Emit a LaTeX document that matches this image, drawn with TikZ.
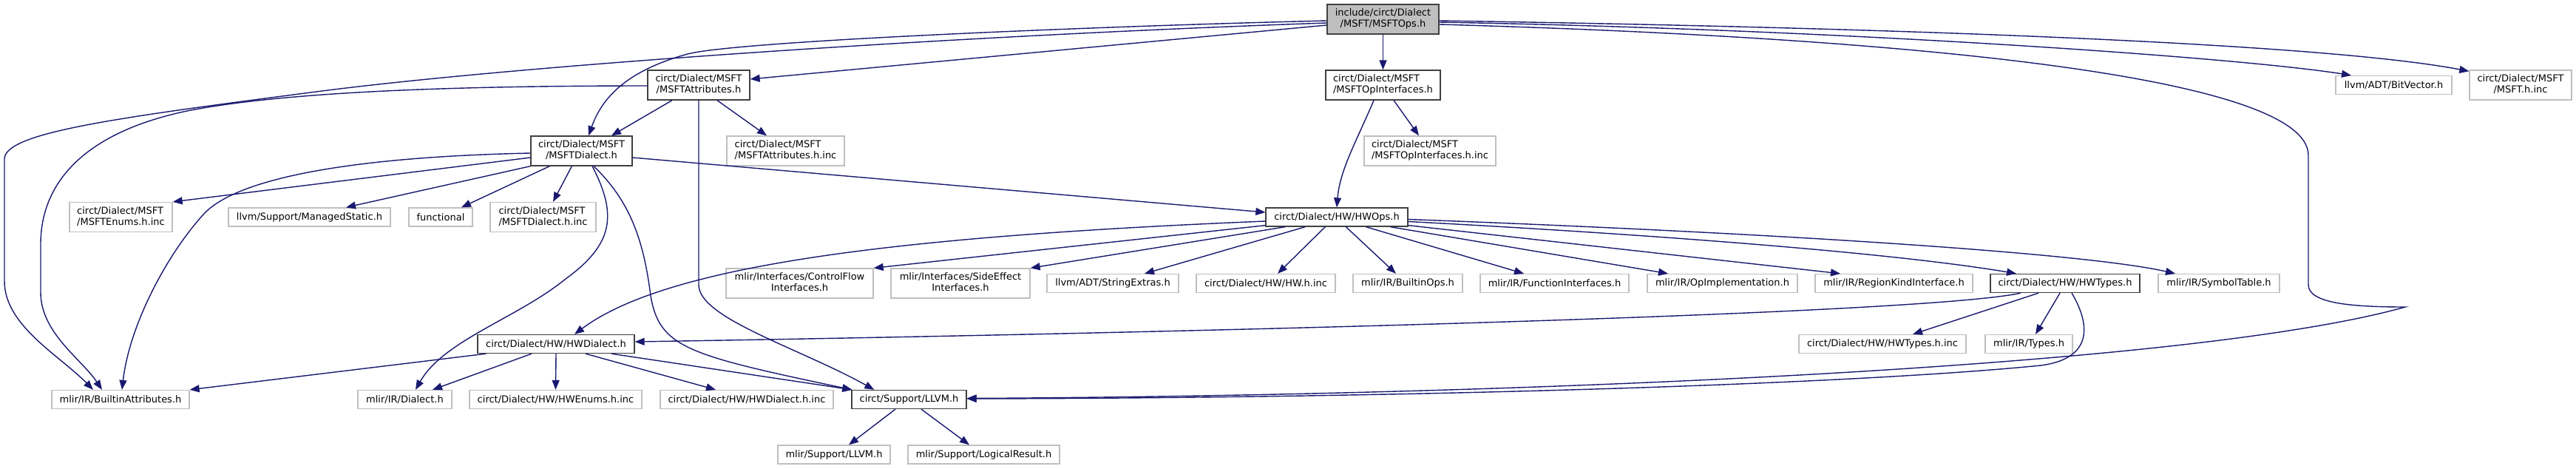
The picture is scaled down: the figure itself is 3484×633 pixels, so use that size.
\documentclass[tikz,border=0pt]{standalone}
\usepackage{fontspec}
\setmainfont{DejaVu Sans}
\usetikzlibrary{arrows.meta,calc}
\definecolor{edgecol}{HTML}{191970}
\definecolor{docborder}{HTML}{404040}
\definecolor{undocborder}{HTML}{BFBFBF}
\definecolor{rootfill}{HTML}{BFBFBF}
\newlength\tlA
\newlength\tlB
\newcommand\twolines[2]{\settowidth\tlA{#1}\settowidth\tlB{#2}\ifdim\tlB>\tlA\tlA=\tlB\fi\begin{tabular}{@{}c@{}}\makebox[\tlA][l]{#1}\\#2\end{tabular}}
\tikzset{
  nd/.style={draw, line width=1.3pt, inner sep=0pt, font=\fontsize{13}{15}\selectfont, text=black},
  doc/.style={nd, draw=docborder, fill=white},
  undoc/.style={nd, draw=undocborder, fill=white},
  root/.style={nd, draw=docborder, fill=rootfill},
  hone/.style={minimum height=25pt},
  htwo/.style={minimum height=40pt},
  wd/.style={minimum width=#1pt},
  edge/.style={draw=edgecol, line width=1.4pt, -{Triangle[length=13pt,width=10pt]}}
}
\begin{document}
\begin{tikzpicture}[x=1pt,y=-1pt]
\useasboundingbox[fill=white] (0,0) rectangle (3484,633);
% rank 0
\node[root,htwo,wd=151] (main) at (1870.5,26) {\twolines{include/circt/Dialect}{/MSFT/MSFTOps.h}};
% rank 1
\node[doc,htwo,wd=138] (attr) at (945,115) {\twolines{circt/Dialect/MSFT}{/MSFTAttributes.h}};
\node[doc,htwo,wd=155] (opif) at (1870.5,115) {\twolines{circt/Dialect/MSFT}{/MSFTOpInterfaces.h}};
\node[undoc,hone,wd=157] (bitvec) at (3237.5,115) {llvm/ADT/BitVector.h};
\node[undoc,htwo,wd=138] (msftinc) at (3409,115) {\twolines{circt/Dialect/MSFT}{/MSFT.h.inc}};
% rank 2
\node[doc,htwo,wd=137] (dial) at (786.5,204) {\twolines{circt/Dialect/MSFT}{/MSFTDialect.h}};
\node[undoc,htwo,wd=159] (attrinc) at (1062.5,204) {\twolines{circt/Dialect/MSFT}{/MSFTAttributes.h.inc}};
\node[undoc,htwo,wd=178] (opifinc) at (1934,204) {\twolines{circt/Dialect/MSFT}{/MSFTOpInterfaces.h.inc}};
% rank 3
\node[undoc,htwo,wd=139] (enums) at (163.5,293.5) {\twolines{circt/Dialect/MSFT}{/MSFTEnums.h.inc}};
\node[undoc,hone,wd=219] (managed) at (418.5,293.5) {llvm/Support/ManagedStatic.h};
\node[undoc,hone,wd=86] (functional) at (596,293.5) {functional};
\node[undoc,htwo,wd=143] (dialinc) at (734.5,293.5) {\twolines{circt/Dialect/MSFT}{/MSFTDialect.h.inc}};
\node[doc,hone,wd=192] (hwops) at (1808,293.5) {circt/Dialect/HW/HWOps.h};
% rank 4
\node[undoc,htwo,wd=199] (cflow) at (1081.5,383) {\twolines{mlir/Interfaces/ControlFlow}{Interfaces.h}};
\node[undoc,htwo,wd=188] (sideeff) at (1299,383) {\twolines{mlir/Interfaces/SideEffect}{Interfaces.h}};
\node[undoc,hone,wd=178] (strext) at (1505,383) {llvm/ADT/StringExtras.h};
\node[undoc,hone,wd=188] (hwinc) at (1712,383) {circt/Dialect/HW/HW.h.inc};
\node[undoc,hone,wd=148] (builtinops) at (1904,383) {mlir/IR/BuiltinOps.h};
\node[undoc,hone,wd=201] (funcif) at (2102.5,383) {mlir/IR/FunctionInterfaces.h};
\node[undoc,hone,wd=203] (opimpl) at (2329.5,383) {mlir/IR/OpImplementation.h};
\node[undoc,hone,wd=213] (regkind) at (2561.5,383) {mlir/IR/RegionKindInterface.h};
\node[doc,hone,wd=202] (hwtypes) at (2793,383) {circt/Dialect/HW/HWTypes.h};
\node[undoc,hone,wd=164] (symtab) at (3001,383) {mlir/IR/SymbolTable.h};
% rank 5
\node[doc,hone,wd=212] (hwdial) at (752,465) {circt/Dialect/HW/HWDialect.h};
\node[undoc,hone,wd=226] (hwtypesinc) at (2546,465) {circt/Dialect/HW/HWTypes.h.inc};
\node[undoc,hone,wd=118] (types) at (2744,465) {mlir/IR/Types.h};
% rank 6
\node[undoc,hone,wd=186] (battr) at (163,540) {mlir/IR/BuiltinAttributes.h};
\node[undoc,hone,wd=127] (mdialect) at (547.5,540) {mlir/IR/Dialect.h};
\node[undoc,hone,wd=233] (hwenums) at (751.5,540) {circt/Dialect/HW/HWEnums.h.inc};
\node[undoc,hone,wd=234] (hwdialinc) at (1010,540) {circt/Dialect/HW/HWDialect.h.inc};
\node[doc,hone,wd=155] (llvm) at (1229.5,540) {circt/Support/LLVM.h};
% rank 7
\node[undoc,hone,wd=152] (mllvm) at (1128,614.5) {mlir/Support/LLVM.h};
\node[undoc,hone,wd=205] (logres) at (1330.5,614.5) {mlir/Support/LogicalResult.h};

% ---- edges from main
\draw[edge] ($(main.west)+(0,8)$) -- ($(attr.east)+(0,-8)$);
\draw[edge] ($(main.west)+(0,2)$) .. controls (1500,35) and (1000,55) .. (930,73) .. controls (850,95) and (815,130) .. ($(dial.north)+(9.5,0)$);
\draw[edge] ($(main.west)+(0,5)$) .. controls (1300,48) and (700,88) .. (420,125) .. controls (150,160) and (6,180) .. (6,215) -- (6,380) .. controls (6,440) and (80,480) .. ($(battr.north)+(-37,0)$);
\draw[edge] (main.south) -- (opif.north);
\draw[edge] ($(main.east)+(0,4)$) .. controls (2500,40) and (3030,78) .. ($(bitvec.north)+(-57.5,0)$);
\draw[edge] ($(main.east)+(0,2)$) .. controls (2600,38) and (3150,60) .. ($(msftinc.north west)+(0,2)$);
\draw[edge] ($(main.east)+(0,7)$) .. controls (2550,50) and (3122,100) .. (3122,210) -- (3122,385) .. controls (3122,410) and (3180,415) .. (3253,415) .. controls (2950,500) and (2000,535) .. ($(llvm.east)+(0,-1.5)$);
% ---- edges from MSFTAttributes
\draw[edge] ($(attr.south)+(-36,0)$) -- ($(dial.north)+(40.5,0)$);
\draw[edge] ($(attr.south)+(25,0)$) -- ($(attrinc.north)+(-25.5,0)$);
\draw[edge] ($(attr.west)+(0,1)$) .. controls (600,116) and (380,125) .. (253,150) .. controls (110,180) and (55,250) .. (55,330) -- (55,395) .. controls (55,450) and (110,485) .. ($(battr.north)+(-25,0)$);
\draw[edge] (attr.south) -- (945,385) .. controls (945,430) and (1080,470) .. ($(llvm.north west)+(31,0)$);
% ---- edges from MSFTOpInterfaces
\draw[edge] ($(opif.south)+(-12.5,0)$) .. controls (1835,190) and (1812,230) .. (hwops.north);
\draw[edge] ($(opif.south)+(14.5,0)$) -- ($(opifinc.north)+(-15,0)$);
% ---- edges from MSFTDialect
\draw[edge] ($(dial.west)+(0,9)$) -- (enums.north east);
\draw[edge] (dial.south west) -- ($(managed.north)+(49.5,0)$);
\draw[edge] ($(dial.south west)+(26,0)$) -- ($(functional.north)+(28,0)$);
\draw[edge] ($(dial.south west)+(56,0)$) -- ($(dialinc.north)+(13.5,0)$);
\draw[edge] ($(dial.west)+(0,3)$) .. controls (480,212) and (320,240) .. (275,290) .. controls (225,345) and (175,440) .. ($(battr.north)+(2,0)$);
\draw[edge] ($(dial.south)+(14.5,0)$) .. controls (835,290) and (830,330) .. (765,377) .. controls (700,430) and (600,460) .. ($(mdialect.north)+(14.5,0)$);
\draw[edge] ($(dial.south)+(16.5,0)$) .. controls (850,270) and (870,320) .. (880,400) .. controls (892,470) and (930,480) .. ($(llvm.north west)+(1,0)$);
\draw[edge] ($(dial.east)+(0,9)$) -- ($(hwops.west)+(0,-6.5)$);
% ---- edges from HWOps
\draw[edge] ($(hwops.west)+(0,5.5)$) .. controls (1200,320) and (900,360) .. ($(hwdial.north)+(25,0)$);
\draw[edge] ($(hwops.south west)+(0,-2)$) -- (cflow.north east);
\draw[edge] ($(hwops.south west)+(27,0)$) -- (sideeff.north east);
\draw[edge] ($(hwops.south west)+(54,0)$) -- ($(strext.north)+(43,0)$);
\draw[edge] ($(hwops.south west)+(81,0)$) -- ($(hwinc.north)+(16,0)$);
\draw[edge] ($(hwops.south west)+(109,0)$) -- ($(builtinops.north)+(-16,0)$);
\draw[edge] ($(hwops.south west)+(136,0)$) -- ($(funcif.north)+(-41.5,0)$);
\draw[edge] ($(hwops.south west)+(169,0)$) -- ($(opimpl.north)+(-73.5,0)$);
\draw[edge] ($(hwops.south east)+(0,-2)$) -- ($(regkind.north)+(-72.5,0)$);
\draw[edge] ($(hwops.east)+(0,6)$) .. controls (2200,315) and (2550,340) .. ($(hwtypes.north)+(-66,0)$);
\draw[edge] ($(hwops.east)+(0,3)$) .. controls (2400,315) and (2820,342) .. ($(symtab.north)+(-59,0)$);
% ---- edges from HWTypes
\draw[edge] ($(hwtypes.south)+(-60,0)$) .. controls (2600,425) and (1600,450) .. ($(hwdial.east)+(0,-3)$);
\draw[edge] ($(hwtypes.south)+(-36,0)$) -- ($(hwtypesinc.north)+(41,0)$);
\draw[edge] ($(hwtypes.south)+(-7,0)$) -- ($(types.north)+(9,0)$);
\draw[edge] ($(hwtypes.south)+(9,0)$) .. controls (2828,440) and (2830,485) .. (2760,494) .. controls (2500,520) and (1900,538) .. ($(llvm.east)+(0,-1)$);
% ---- edges from HWDialect
\draw[edge] ($(hwdial.south west)+(12,0)$) -- (battr.north east);
\draw[edge] ($(hwdial.south)+(-33,0)$) -- ($(mdialect.north)+(37.5,0)$);
\draw[edge] (hwdial.south) -- (hwenums.north);
\draw[edge] ($(hwdial.south)+(40,0)$) -- ($(hwdialinc.north)+(-42,0)$);
\draw[edge] ($(hwdial.south)+(75,0)$) -- ($(llvm.north west)+(1,0)$);
% ---- edges from circt/Support/LLVM.h
\draw[edge] ($(llvm.south)+(-18.5,0)$) -- ($(mllvm.north)+(20,0)$);
\draw[edge] ($(llvm.south)+(16.5,0)$) -- ($(logres.north)+(-19.5,0)$);
\end{tikzpicture}
\end{document}
